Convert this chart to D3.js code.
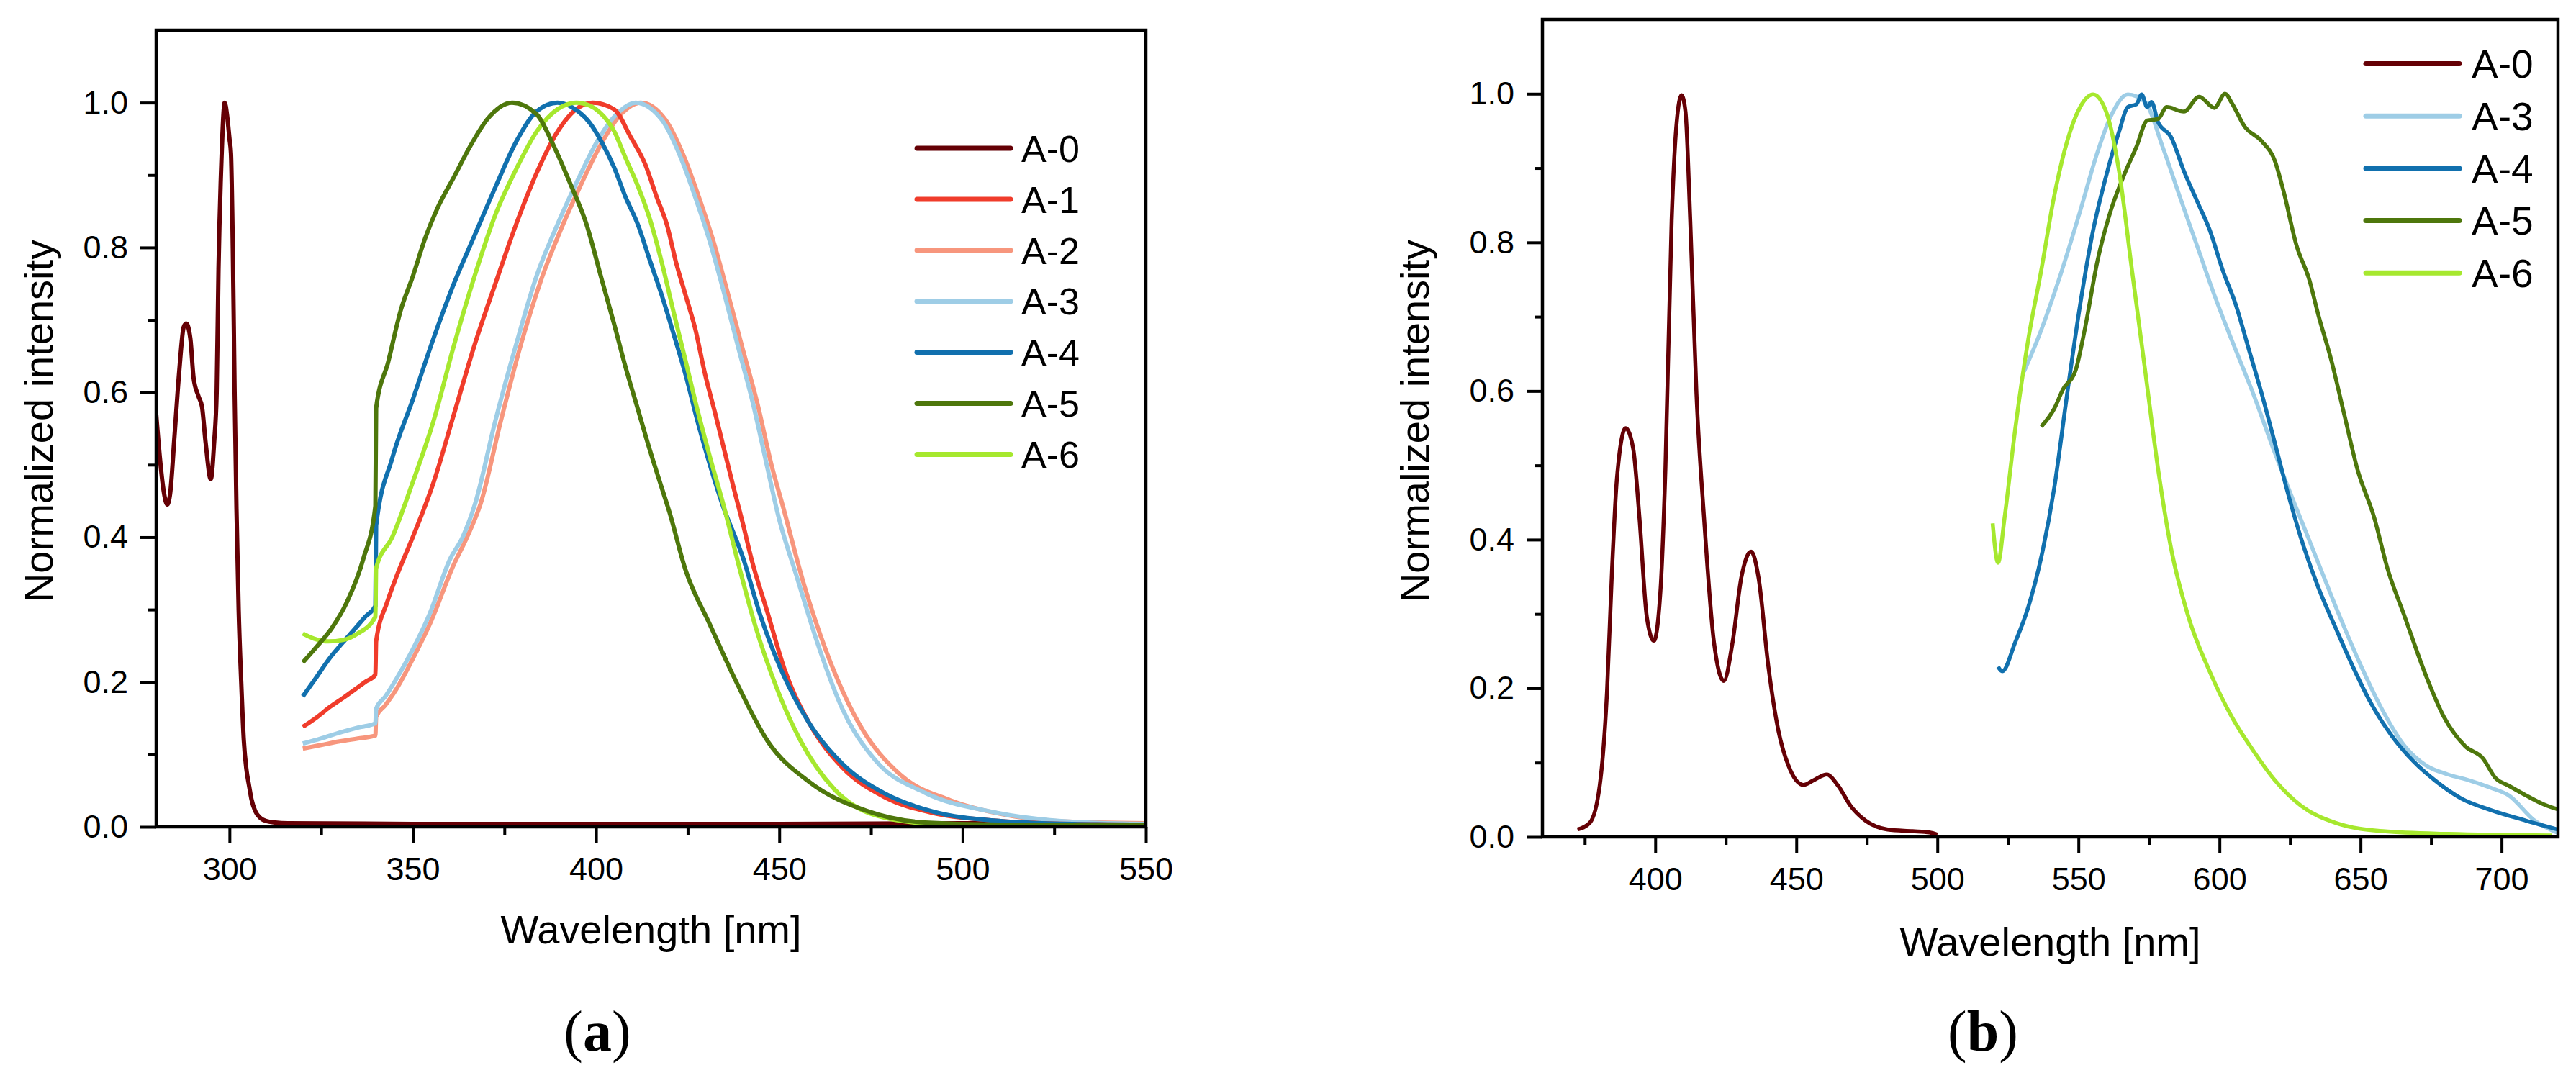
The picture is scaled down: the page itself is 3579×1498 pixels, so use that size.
<!DOCTYPE html>
<html>
<head>
<meta charset="utf-8">
<script src="https://cdn.jsdelivr.net/npm/d3@7"></script>
<style>
  body { margin: 0; background: #fff; }
  svg text { font-family: "Liberation Sans", Arial, sans-serif; fill: #000; }
</style>
</head>
<body>
<svg id="chart" width="3579" height="1498"></svg>
<script>
// ---- panel (a) : absorption / excitation, [nm, normalized] ----
const a_A0 = [[280,0.57],[281,0.51],[282,0.465],[283,0.445],[283.8,0.46],[285,0.54],[286.3,0.63],[287.5,0.69],[288.2,0.695],[289.3,0.675],[290.2,0.62],[291.5,0.595],[292.5,0.58],[293.5,0.53],[294.9,0.48],[295.8,0.53],[296.5,0.6],[297,0.77],[297.8,0.92],[298.7,1.0],[299.4,0.98],[300,0.95],[300.4,0.93],[300.9,0.8],[301.4,0.6],[301.9,0.44],[302.5,0.3],[303.2,0.2],[303.9,0.12],[304.6,0.08],[305.3,0.058],[306,0.038],[307,0.022],[308.5,0.012],[310,0.008],[312.5,0.006],[316,0.005],[350,0.004],[400,0.004],[450,0.004],[500,0.005],[550,0.005]];
const a_A1 = [[320,0.138],[324,0.152],[327.5,0.166],[331,0.178],[334.3,0.19],[337,0.2],[339.8,0.21],[340,0.256],[343,0.31],[345.5,0.345],[350,0.4],[355.7,0.476],[361.3,0.571],[366.9,0.666],[372.6,0.751],[378.2,0.832],[383.8,0.903],[389.5,0.96],[395.1,0.993],[399.1,1.0],[404.9,0.991],[409.4,0.953],[413.4,0.915],[416.6,0.869],[419.3,0.832],[421.9,0.778],[424.5,0.733],[427.1,0.687],[429.7,0.626],[432.4,0.573],[435,0.52],[437.6,0.467],[440,0.42],[442.4,0.37],[446.9,0.294],[451.4,0.218],[458.2,0.143],[467.2,0.082],[478.4,0.042],[492,0.019],[507.8,0.009],[530,0.004],[550,0.003]];
const a_A2 = [[320,0.108],[325,0.113],[330,0.118],[335,0.122],[339.8,0.126],[340,0.152],[342.5,0.168],[345.5,0.19],[350,0.232],[355,0.284],[361,0.36],[364.8,0.4],[368.5,0.446],[374,0.56],[379.5,0.666],[385,0.755],[390.5,0.826],[396,0.888],[401.5,0.944],[407,0.985],[412.2,1.0],[419,0.976],[424.2,0.923],[428.1,0.869],[432,0.809],[436,0.736],[440,0.66],[444,0.585],[448,0.497],[450.8,0.446],[457,0.33],[462.7,0.244],[471.7,0.143],[483,0.072],[496.5,0.037],[512.3,0.016],[530,0.007],[550,0.005]];
const a_A3 = [[320,0.115],[325,0.122],[330,0.13],[335,0.137],[339.8,0.143],[340,0.163],[342.5,0.18],[345.5,0.204],[350,0.245],[354.6,0.294],[360.2,0.37],[363.6,0.4],[367,0.446],[372.5,0.56],[378.2,0.666],[383.8,0.761],[389.5,0.832],[395.1,0.894],[400.7,0.95],[406.4,0.988],[410.8,1.0],[418,0.976],[423.2,0.923],[427.1,0.869],[431,0.809],[435,0.736],[438.9,0.66],[442.8,0.585],[446.7,0.497],[449.7,0.43],[454.8,0.345],[460.4,0.254],[467.2,0.163],[476.2,0.092],[489.8,0.047],[507.8,0.021],[530,0.007],[550,0.004]];
const a_A4 = [[320,0.18],[323.5,0.205],[327.5,0.234],[331,0.255],[334.3,0.274],[337,0.29],[339.8,0.305],[340,0.416],[344.4,0.509],[350,0.59],[355.7,0.675],[361.3,0.751],[366.9,0.817],[372.6,0.884],[378.2,0.946],[383.8,0.988],[389.5,1.0],[395.1,0.988],[398.3,0.972],[401.6,0.945],[404.9,0.911],[408.1,0.869],[411.4,0.832],[414.7,0.782],[418,0.733],[421.2,0.68],[424.5,0.623],[427.8,0.558],[431,0.501],[434.5,0.445],[440.2,0.37],[444.7,0.294],[450.4,0.218],[458.2,0.143],[467.2,0.087],[478.4,0.047],[492,0.021],[507.8,0.009],[530,0.004],[550,0.003]];
const a_A5 = [[320,0.227],[324,0.25],[328,0.275],[332,0.31],[336.5,0.37],[339.8,0.443],[340,0.578],[343.3,0.642],[346.7,0.713],[350,0.76],[353.4,0.813],[356.8,0.855],[361.3,0.898],[365.8,0.941],[370.3,0.977],[377.1,1.0],[383.8,0.984],[388.4,0.941],[392.9,0.889],[397.4,0.832],[401.6,0.755],[404.9,0.695],[408.1,0.634],[411.4,0.577],[414.7,0.52],[418,0.467],[420,0.435],[424.4,0.355],[431.1,0.279],[437.9,0.204],[447,0.117],[458.2,0.062],[473.9,0.022],[489.8,0.006],[510,0.003],[550,0.003]];
const a_A6 = [[320,0.267],[323,0.26],[327,0.256],[331,0.258],[335,0.267],[339.8,0.29],[340,0.357],[344.4,0.4],[350,0.476],[355.7,0.561],[361.3,0.666],[366.9,0.761],[372.6,0.846],[378.2,0.908],[383.8,0.96],[389.5,0.991],[394.6,1.0],[398.3,0.996],[400.7,0.988],[404.9,0.961],[408.1,0.923],[411.4,0.885],[414.7,0.839],[418,0.778],[421.2,0.71],[424.5,0.642],[427.8,0.573],[431,0.512],[435,0.44],[439,0.36],[443.6,0.275],[449.2,0.193],[456,0.117],[465,0.052],[476.2,0.016],[492,0.004],[510,0.002],[550,0.002]];

// ---- panel (b) : emission ----
const b_A0 = [[372.4,0.01],[376.8,0.019],[380.3,0.069],[382.9,0.196],[384.7,0.362],[386.4,0.482],[389.5,0.55],[392.2,0.522],[394.4,0.429],[397,0.296],[399.5,0.264],[401.8,0.329],[403.6,0.496],[405.8,0.829],[407.6,0.962],[409.3,0.998],[410.7,0.976],[412.4,0.829],[414.6,0.596],[417.3,0.429],[420.8,0.262],[424.3,0.21],[427.4,0.262],[430.5,0.349],[434,0.384],[436.6,0.349],[440.1,0.229],[443.7,0.142],[447.2,0.096],[452.5,0.07],[456,0.076],[460.8,0.084],[464.8,0.069],[469.2,0.042],[474.5,0.022],[482.4,0.01],[491.2,0.0077],[497.2,0.006],[500,0.003]];
const b_A3 = [[530.7,0.626],[536.8,0.682],[543,0.749],[550.6,0.842],[556.8,0.922],[561.4,0.969],[567.5,0.999],[573.6,0.989],[579.8,0.929],[585.9,0.862],[592,0.796],[598.2,0.729],[604.3,0.669],[612,0.596],[619.7,0.516],[627.3,0.442],[635,0.369],[642.7,0.296],[650.3,0.229],[658,0.169],[665.7,0.122],[673.3,0.096],[681,0.084],[688.7,0.076],[696.3,0.066],[702.5,0.056],[711.7,0.022],[720.9,0.004]];
const b_A4 = [[521.5,0.229],[523,0.223],[527.6,0.262],[532.2,0.309],[536.8,0.376],[541.4,0.469],[546,0.596],[550.6,0.716],[555.2,0.816],[559.8,0.889],[564.4,0.949],[567.5,0.982],[570.6,0.986],[572.4,0.999],[574.4,0.982],[575.9,0.989],[578.2,0.962],[582.8,0.942],[587.4,0.896],[592,0.856],[596.6,0.816],[601.2,0.762],[605.8,0.716],[610.4,0.656],[615,0.596],[619.7,0.529],[624.3,0.462],[628.9,0.402],[635,0.336],[641.1,0.282],[647.3,0.229],[653.4,0.182],[661.1,0.136],[668.7,0.102],[676.4,0.076],[685.6,0.052],[696.3,0.036],[708.6,0.022],[720.9,0.009]];
const b_A5 = [[536.8,0.552],[541.4,0.576],[544.5,0.602],[549.1,0.629],[552.2,0.682],[556.8,0.776],[561.4,0.842],[566,0.889],[570.6,0.929],[574.4,0.964],[578.2,0.966],[581.3,0.982],[587.4,0.976],[592.8,0.996],[598.2,0.981],[602,1.0],[604.3,0.988],[608.9,0.956],[615,0.936],[619.7,0.909],[622.7,0.869],[627.3,0.796],[631.9,0.749],[635,0.703],[639.6,0.642],[644.2,0.569],[648.8,0.496],[654.9,0.429],[659.5,0.362],[665.7,0.296],[673.3,0.216],[679.5,0.162],[687.1,0.122],[693.3,0.106],[697.9,0.079],[702.5,0.069],[708.6,0.056],[714.8,0.044],[720.9,0.036]];
const b_A6 = [[519.6,0.422],[521.5,0.369],[523.8,0.429],[527.6,0.549],[532.2,0.669],[536.8,0.762],[541.4,0.862],[546,0.936],[550.6,0.982],[555.2,0.999],[559.8,0.976],[564.4,0.896],[569,0.762],[573.6,0.629],[578.2,0.496],[582.8,0.389],[589,0.296],[596.6,0.222],[604.3,0.162],[612,0.116],[619.7,0.076],[628.9,0.042],[641.1,0.019],[658,0.0077],[681,0.004],[717.8,0.002]];

// ---- ticks ----
const a_xMajor = [300, 350, 400, 450, 500, 550];
const a_xMinor = [325, 375, 425, 475, 525];
const b_xMajor = [400, 450, 500, 550, 600, 650, 700];
const b_xMinor = [375, 425, 475, 525, 575, 625, 675];
const yMajor = [0, 0.2, 0.4, 0.6, 0.8, 1.0];
const yMinor = [0.1, 0.3, 0.5, 0.7, 0.9];

const seriesColor = {
  "A-0": "#650005", "A-1": "#f03c2b", "A-2": "#f7967d", "A-3": "#9ecde6",
  "A-4": "#1170ae", "A-5": "#4e770c", "A-6": "#a6e82e"
};

const svg = d3.select("#chart");

function drawPanel(p) {
  const x = d3.scaleLinear().domain(p.xDomain).range([p.left, p.right]);
  const y = d3.scaleLinear().domain([0, 1.1]).range([p.bottom, p.top]);
  const g = svg.append("g");

  g.append("clipPath").attr("id", p.id + "-clip")
    .append("rect")
    .attr("x", p.left).attr("y", p.top)
    .attr("width", p.right - p.left).attr("height", p.bottom - p.top);

  const line = d3.line()
    .x(d => x(d[0]))
    .y(d => y(d[1]))
    .curve(d3.curveMonotoneX);

  g.append("g").attr("clip-path", `url(#${p.id}-clip)`)
    .selectAll("path")
    .data(p.series)
    .join("path")
    .attr("d", d => line(d.values))
    .attr("fill", "none")
    .attr("stroke", d => seriesColor[d.name])
    .attr("stroke-width", p.lineWidth)
    .attr("stroke-linejoin", "round");

  // ticks
  const xAxis = g.append("g").attr("transform", `translate(0,${p.bottom})`)
    .call(d3.axisBottom(x).tickValues(p.xMajor).tickSize(22).tickPadding(20).tickFormat(d3.format("d")));
  g.append("g").attr("transform", `translate(0,${p.bottom})`)
    .call(d3.axisBottom(x).tickValues(p.xMinor).tickSize(11).tickFormat(""));
  const yAxis = g.append("g").attr("transform", `translate(${p.left},0)`)
    .call(d3.axisLeft(y).tickValues(yMajor).tickSize(22).tickPadding(17).tickFormat(d3.format(".1f")));
  g.append("g").attr("transform", `translate(${p.left},0)`)
    .call(d3.axisLeft(y).tickValues(yMinor).tickSize(11).tickFormat(""));

  g.selectAll(".domain").remove();
  g.selectAll(".tick line").attr("stroke", "#000").attr("stroke-width", 4);
  g.selectAll(".tick text").attr("font-size", 45).attr("fill", "#000");

  // frame
  g.append("rect")
    .attr("x", p.left).attr("y", p.top)
    .attr("width", p.right - p.left).attr("height", p.bottom - p.top)
    .attr("fill", "none").attr("stroke", "#000").attr("stroke-width", 4.5);

  // axis titles
  g.append("text")
    .attr("x", (p.left + p.right) / 2).attr("y", p.xTitleY)
    .attr("text-anchor", "middle").attr("font-size", 56)
    .text("Wavelength [nm]");
  g.append("text")
    .attr("transform", `translate(${p.yTitleX},${p.yTitleCY}) rotate(-90)`)
    .attr("text-anchor", "middle").attr("font-size", 56)
    .text("Normalized intensity");

  // legend
  const leg = g.append("g").selectAll("g")
    .data(p.series.filter(d => p.legendNames.includes(d.name))
      .sort((a, b) => d3.ascending(a.name, b.name)))
    .join("g")
    .attr("transform", (d, i) => `translate(0,${p.legY + i * p.legStep})`);
  leg.append("line")
    .attr("x1", p.legX1).attr("x2", p.legX2)
    .attr("stroke", d => seriesColor[d.name])
    .attr("stroke-width", 7).attr("stroke-linecap", "round");
  leg.append("text")
    .attr("x", p.legTextX).attr("y", p.legFont * 0.36)
    .attr("font-size", p.legFont)
    .text(d => d.name);

  // caption
  const cap = g.append("text")
    .attr("x", p.capX).attr("y", 1460)
    .attr("text-anchor", "middle")
    .attr("font-size", 80)
    .style("font-family", "'Liberation Serif', 'Times New Roman', serif");
  cap.append("tspan").text("(");
  cap.append("tspan").attr("font-weight", "bold").text(p.caption);
  cap.append("tspan").text(")");
}

drawPanel({
  id: "pa", left: 217, right: 1592, top: 42, bottom: 1149,
  xDomain: [280, 550], xMajor: a_xMajor, xMinor: a_xMinor, lineWidth: 6,
  series: [
    {name: "A-0", values: a_A0}, {name: "A-2", values: a_A2}, {name: "A-3", values: a_A3},
    {name: "A-1", values: a_A1}, {name: "A-4", values: a_A4}, {name: "A-6", values: a_A6},
    {name: "A-5", values: a_A5}
  ],
  legendNames: ["A-0", "A-1", "A-2", "A-3", "A-4", "A-5", "A-6"],
  legX1: 1274, legX2: 1404, legTextX: 1419, legY: 206, legStep: 70.9, legFont: 52,
  xTitleY: 1311, yTitleX: 73, yTitleCY: 585, capX: 830, caption: "a"
});

drawPanel({
  id: "pb", left: 2143, right: 3554, top: 27, bottom: 1163,
  xDomain: [360, 720], xMajor: b_xMajor, xMinor: b_xMinor, lineWidth: 5.5,
  series: [
    {name: "A-0", values: b_A0}, {name: "A-3", values: b_A3}, {name: "A-4", values: b_A4},
    {name: "A-5", values: b_A5}, {name: "A-6", values: b_A6}
  ],
  legendNames: ["A-0", "A-3", "A-4", "A-5", "A-6"],
  legX1: 3287, legX2: 3417, legTextX: 3434, legY: 88.5, legStep: 72.7, legFont: 55,
  xTitleY: 1328, yTitleX: 1985, yTitleCY: 585, capX: 2755, caption: "b"
});
</script>
</body>
</html>
